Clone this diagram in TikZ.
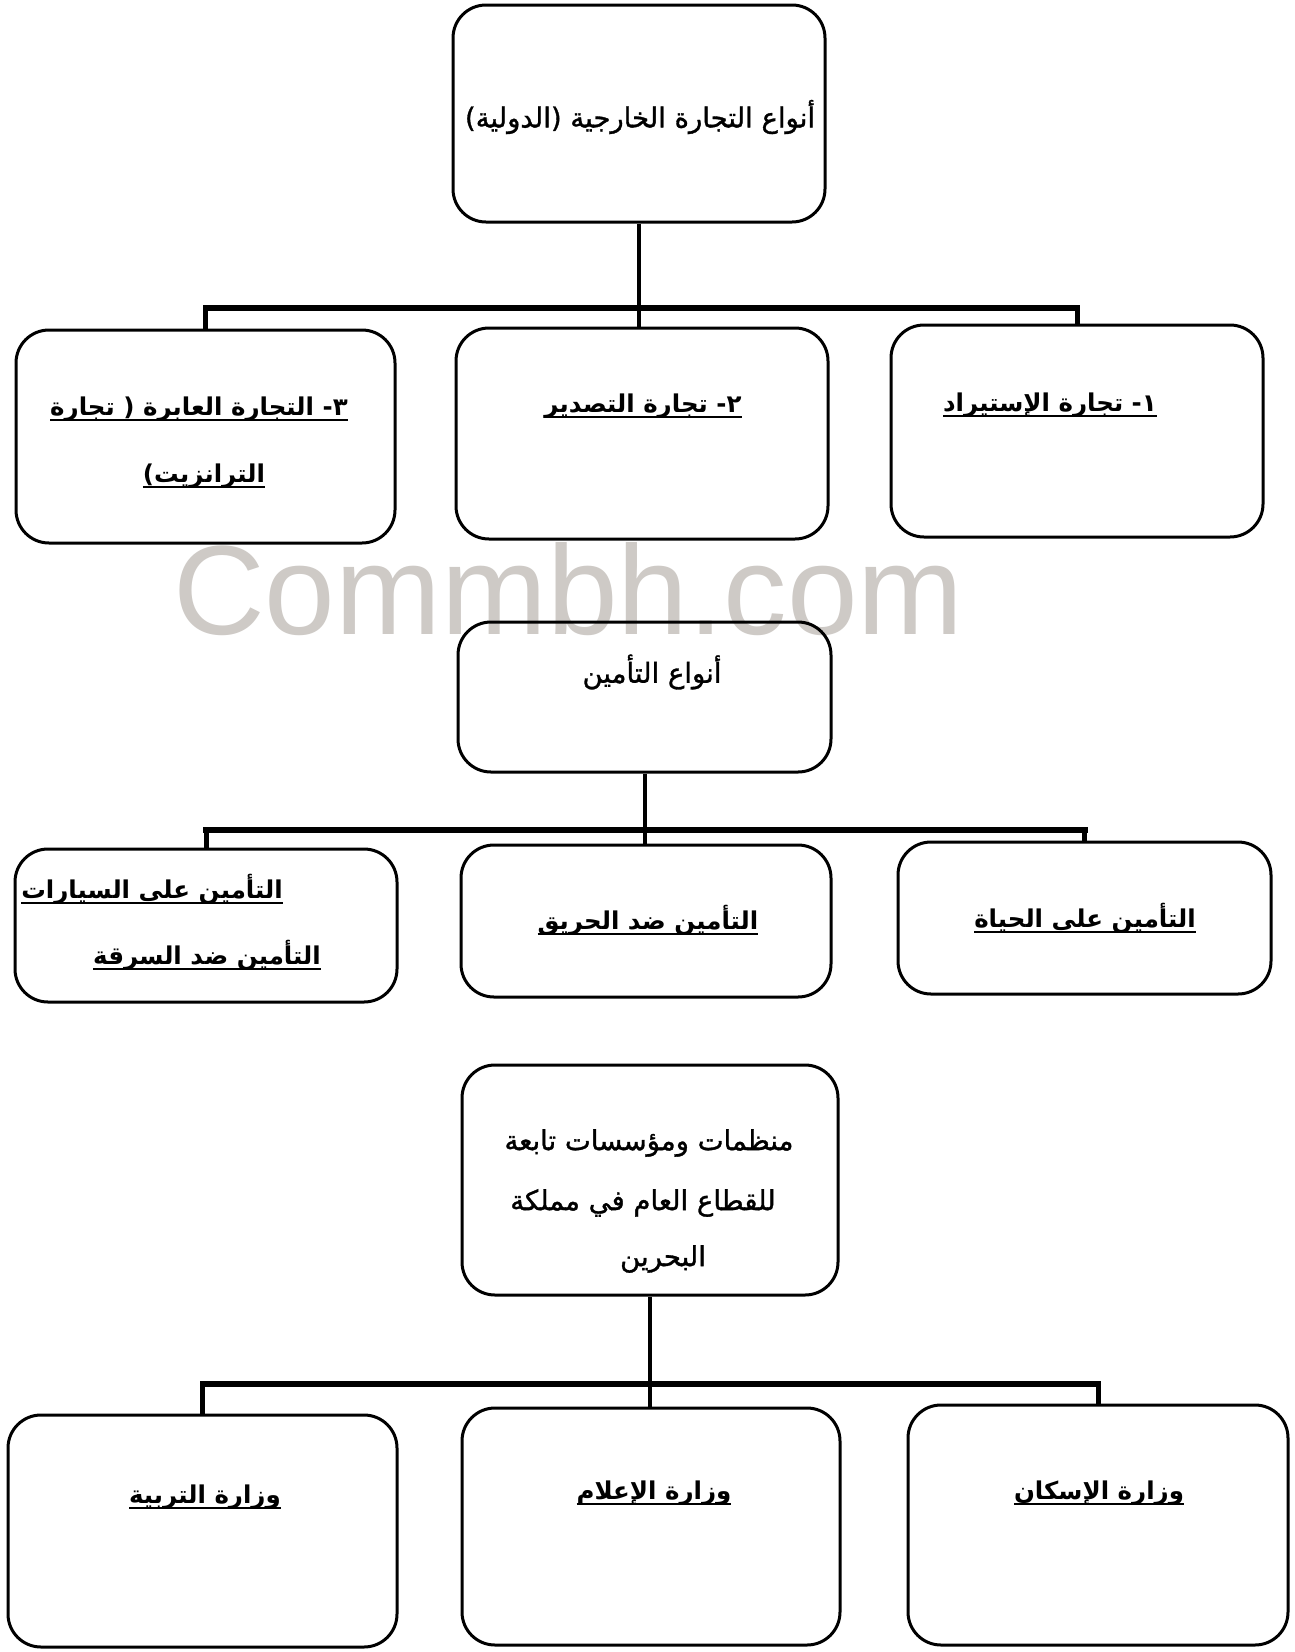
\documentclass[tikz,border=0pt]{standalone}
\usepackage{fontspec}
\setmainfont{Liberation Sans}
\newfontfamily\arabicfont[Script=Arabic]{DejaVu Sans}
\newfontfamily\arabicmed[Script=Arabic,FakeBold=1.2]{DejaVu Sans}
\TeXXeTstate=1
\definecolor{wmgray}{RGB}{206,202,198}
\newcommand\artxt[1]{{\arabicmed\beginR #1\endR}}
\newcommand\arul[1]{\setbox0=\hbox{\arabicfont\bfseries\beginR #1\endR}\rlap{\rule[-6pt]{\wd0}{2.2pt}}\box0}
\tikzset{
  box/.style={draw, line width=3pt, rounded corners=33pt, inner sep=0pt},
  ttl/.style={inner sep=0pt, font=\fontsize{27.5}{34}\selectfont},
  chl/.style={inner sep=0pt, font=\fontsize{24.5}{30}\selectfont},
  stem/.style={line width=4pt},
  drop/.style={line width=5pt, line cap=rect},
  barline/.style={line width=6pt, line cap=rect},
  wm/.style={inner sep=0pt, text=wmgray, font=\fontsize{127}{130}\selectfont}
}
\begin{document}
\begin{tikzpicture}[x=1pt,y=-1pt]
\fill[white] (0,0) rectangle (1294,1652);
\useasboundingbox (0,0) rectangle (1294,1652);
% watermark
\node[wm, anchor=base west] (wm) at (173,634) {Commbh.com};

% ---------- section 1 ----------
\node[box, minimum width=372pt, minimum height=217pt] (t1) at (639,113.5) {};
\node[box, minimum width=379pt, minimum height=213pt] (c1) at (205.5,436.5) {};
\node[box, minimum width=372pt, minimum height=211pt] (c2) at (642,433.5) {};
\node[box, minimum width=372pt, minimum height=212pt] (c3) at (1077,431) {};
\coordinate (b1) at (639,308);
\draw[stem] (t1.south) -- (t1.south |- c2.north);
\draw[drop] (c1.north) -- (c1.north |- b1);
\draw[drop] (c3.north) -- (c3.north |- b1);
\draw[barline] (c1.north |- b1) -- (c3.north |- b1);
\node[ttl] (t1l) at (640,117) {\artxt{أنواع التجارة الخارجية (الدولية)}};
\node[chl] (c3l) at (1050,405) {\arul{١- تجارة الإستيراد}};
\node[chl] (c2l) at (643,406) {\arul{٢- تجارة التصدير}};
\node[chl] (c1la) at (199,409) {\arul{٣- التجارة العابرة ( تجارة}};
\node[chl] (c1lb) at (204,476) {\arul{الترانزيت)}};

% ---------- section 2 ----------
\node[box, minimum width=373pt, minimum height=150pt] (t2) at (644.5,697) {};
\node[box, minimum width=382pt, minimum height=153pt] (d1) at (206,925.5) {};
\node[box, minimum width=370pt, minimum height=152pt] (d2) at (646,921) {};
\node[box, minimum width=373pt, minimum height=152pt] (d3) at (1084.5,918) {};
\coordinate (b2) at (644,830);
\draw[stem] (t2.south) -- (t2.south |- d2.north);
\draw[drop] (d1.north) -- (d1.north |- b2);
\draw[drop] (d3.north) -- (d3.north |- b2);
\draw[barline] (d1.north |- b2) -- (d3.north |- b2);
\node[ttl] (t2l) at (652,672) {\artxt{أنواع التأمين}};
\node[chl] (d3l) at (1085,918) {\arul{التأمين على الحياة}};
\node[chl] (d2l) at (648,920) {\arul{التأمين ضد الحريق}};
\node[chl] (d1la) at (152,889) {\arul{التأمين على السيارات}};
\node[chl] (d1lb) at (207,955) {\arul{التأمين ضد السرقة}};

% ---------- section 3 ----------
\node[box, minimum width=376pt, minimum height=230pt] (t3) at (650,1180) {};
\node[box, minimum width=389pt, minimum height=232pt] (e1) at (202.5,1531) {};
\node[box, minimum width=378pt, minimum height=237pt] (e2) at (651,1526.5) {};
\node[box, minimum width=380pt, minimum height=240pt] (e3) at (1098,1525) {};
\coordinate (b3) at (650,1384);
\draw[stem] (t3.south) -- (t3.south |- e2.north);
\draw[drop] (e1.north) -- (e1.north |- b3);
\draw[drop] (e3.north) -- (e3.north |- b3);
\draw[barline] (e1.north |- b3) -- (e3.north |- b3);
\node[ttl] (t3la) at (649,1143) {\artxt{منظمات ومؤسسات تابعة}};
\node[ttl] (t3lb) at (643,1203) {\artxt{للقطاع العام في مملكة}};
\node[ttl] (t3lc) at (663,1259) {\artxt{البحرين}};
\node[chl] (e3l) at (1099,1493) {\arul{وزارة الإسكان}};
\node[chl] (e2l) at (654,1493) {\arul{وزارة الإعلام}};
\node[chl] (e1l) at (205,1497) {\arul{وزارة التربية}};
\end{tikzpicture}
\end{document}
